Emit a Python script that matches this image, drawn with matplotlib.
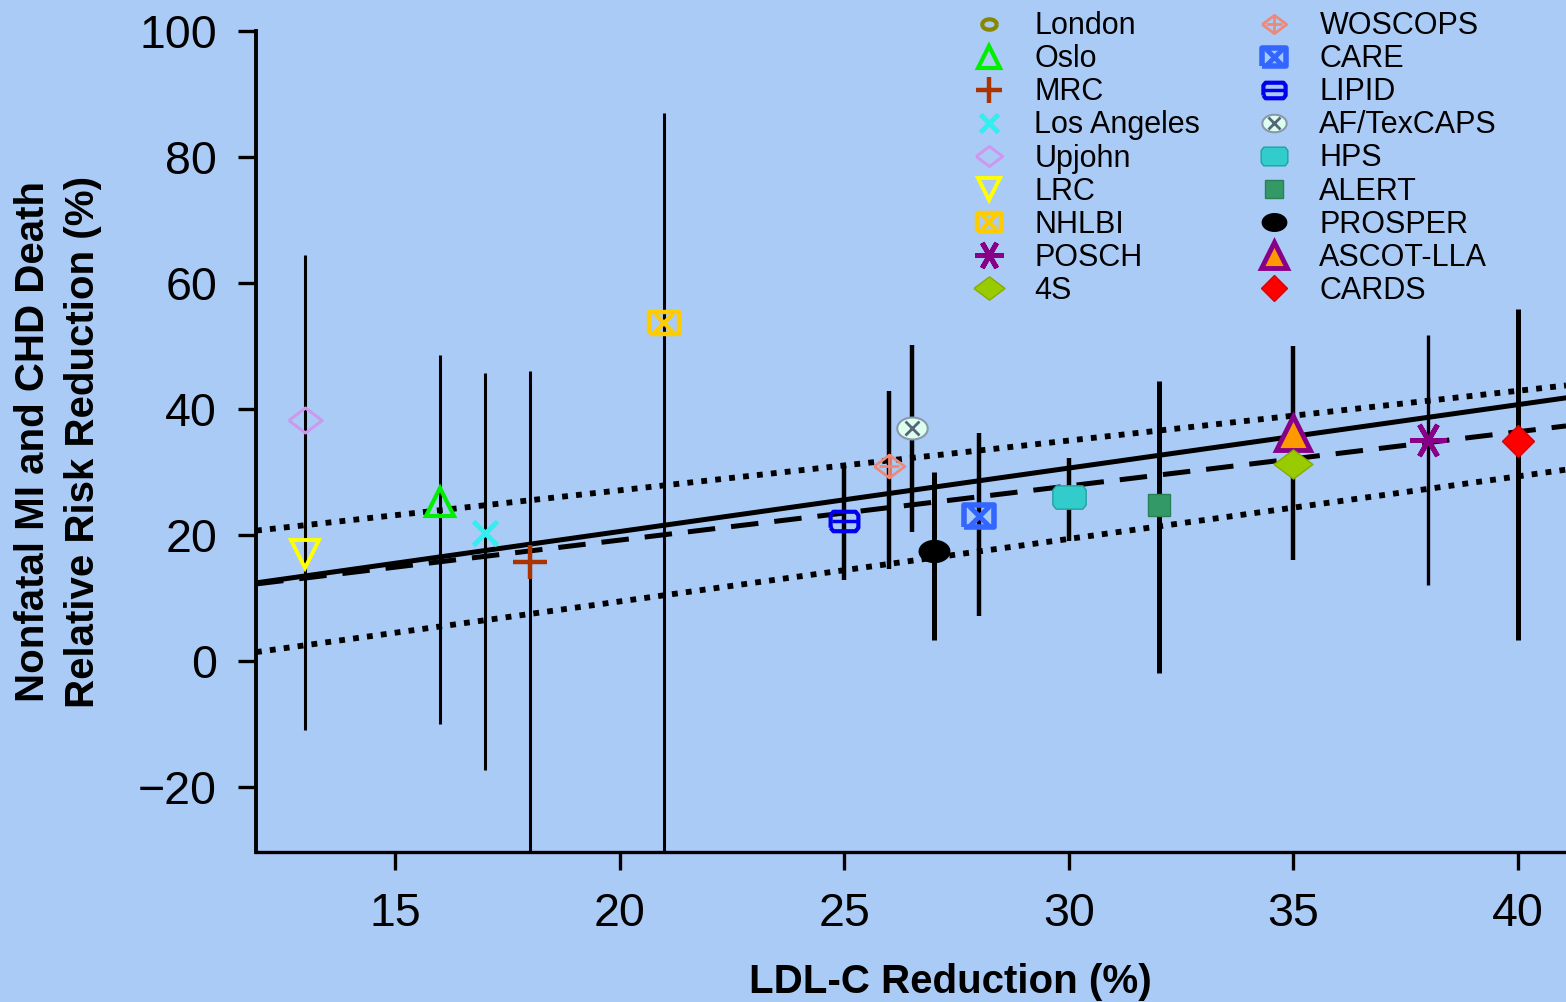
import numpy as np
import matplotlib
matplotlib.use("Agg")
from matplotlib import pyplot as plt
from matplotlib.legend_handler import HandlerTuple
from matplotlib.lines import Line2D

# trial data: LDL-C reduction (%) vs relative risk reduction (%)
trials = ["Upjohn", "LRC", "Oslo", "Los Angeles", "MRC", "NHLBI", "LIPID", "WOSCOPS",
          "AF/TexCAPS", "PROSPER", "CARE", "HPS", "ALERT", "ASCOT-LLA", "4S", "POSCH", "CARDS"]
ldl_reduction = [13, 13, 16, 17, 18, 21, 25, 26, 26.5, 27, 28, 30, 32, 35, 35, 38, 40]
rrr = [38.2, 17.0, 25.3, 20.3, 15.7, 53.6, 22.2, 31.0, 37.0, 17.5, 23.0, 26.0, 24.8, 36.2, 31.2, 35.1, 35.0]
ci_low = [-11.0, np.nan, -10.0, -17.3, -32.0, -32.0, 12.9, 14.6, 20.5, 3.3, 7.2, 19.0, -1.9, 16.0, np.nan, 12.0, 3.3]
ci_high = [64.5, np.nan, 48.5, 45.8, 46.0, 87.0, 31.0, 42.8, 50.2, 30.0, 36.2, 32.3, 44.5, 50.0, np.nan, 51.8, 55.8]

legend_left = ["London", "Oslo", "MRC", "Los Angeles", "Upjohn", "LRC", "NHLBI", "POSCH", "4S"]
legend_right = ["WOSCOPS", "CARE", "LIPID", "AF/TexCAPS", "HPS", "ALERT", "PROSPER", "ASCOT-LLA", "CARDS"]

# regression fit and its confidence band (intercept at x=0, slope)
fit_solid = (0.42, 1.007)
fit_dashed = (2.0, 0.86)
band_upper = (11.3, 0.79)
band_lower = (-10.4, 0.993)

BG = "#abcbf7"

wide_diamond = [(-1, 0), (0, 0.75), (1, 0), (0, -0.75), (-1, 0)]
wide_rect = [(-1, -0.72), (1, -0.72), (1, 0.72), (-1, 0.72), (-1, -0.72)]
rounded = [(-1, -0.45), (-0.8, -0.7), (0.8, -0.7), (1, -0.45), (1, 0.45), (0.8, 0.7),
           (-0.8, 0.7), (-1, 0.45), (-1, -0.45)]
t = np.linspace(0, 2 * np.pi, 40)
oval = list(zip(np.cos(t), 0.72 * np.sin(t)))

# marker layers per trial: list of (marker, size, face, edge, edgewidth)
styles = {
    "London": [(oval, 13, "none", "#888800", 3.0)],
    "Upjohn": [(wide_diamond, 24, "none", "#cc99ee", 2.2)],
    "LRC": [("v", 20, "none", "#ffff00", 2.8)],
    "Oslo": [("^", 20, "none", "#00ee00", 3.0)],
    "Los Angeles": [("x", 17, "none", "#33eeee", 3.6)],
    "MRC": [("+", 24, "none", "#aa3300", 3.2)],
    "NHLBI": [(wide_rect, 22, "none", "#ffcc00", 3.2), ("x", 13, "none", "#ffcc00", 3.0)],
    "LIPID": [(rounded, 20, "none", "#0000ee", 3.0), ("_", 18, "none", "#0000ee", 2.5)],
    "WOSCOPS": [(wide_diamond, 22, "none", "#ee8877", 2.0), ("+", 14, "none", "#ee8877", 2.0)],
    "AF/TexCAPS": [(oval, 22, "#ddfff0", "#8899aa", 1.5), ("x", 10, "none", "#556677", 2.0)],
    "PROSPER": [(oval, 22, "black", "black", 1.0)],
    "CARE": [(wide_rect, 22, "none", "#3366ff", 4.0), ("x", 15, "none", "#3366ff", 3.5)],
    "HPS": [(rounded, 24, "#33cccc", "#22a0a0", 1.0)],
    "ALERT": [("s", 16, "#339966", "#2a8055", 1.0)],
    "ASCOT-LLA": [("^", 24, "#ff9900", "#880088", 3.5)],
    "4S": [(wide_diamond, 28, "#99cc00", "#88aa00", 1.0)],
    "POSCH": [((6, 2, 90), 26, "none", "#880088", 3.5)],
    "CARDS": [("D", 16, "#ff0000", "#dd0000", 1.0)],
}
bar_widths = [2.2, 2.2, 2.2, 2.2, 2.2, 2.2, 3.2, 3.2, 3.2, 3.6, 3.2, 3.2, 3.6, 3.2, 3.2, 2.4, 3.6]

plt.rcParams['font.family'] = ['Liberation Sans', 'DejaVu Sans']

fig = plt.figure(figsize=(15.66, 10.02), dpi=100, facecolor=BG)
ax = fig.add_axes([256 / 1566, 1 - 852 / 1002, 1 - 256 / 1566, (852 - 31) / 1002])
ax.set_facecolor(BG)
ax.set_xlim(11.906, 41.07)
ax.set_ylim(-30.3, 100)

# regression lines
xs = np.array(ax.get_xlim())
ax.plot(xs, band_upper[0] + band_upper[1] * xs, color="black", lw=4.2, ls=(0, (1, 1.4)), zorder=2)
ax.plot(xs, band_lower[0] + band_lower[1] * xs, color="black", lw=4.2, ls=(0, (1, 1.4)), zorder=2)
ax.plot(xs, fit_dashed[0] + fit_dashed[1] * xs, color="black", lw=3.6, ls=(0, (5.5, 3.2)), zorder=2)
ax.plot(xs, fit_solid[0] + fit_solid[1] * xs, color="black", lw=3.6, zorder=2)

# confidence intervals
for x, lo, hi, w in zip(ldl_reduction, ci_low, ci_high, bar_widths):
    if not np.isnan(lo):
        ax.vlines(x, lo, hi, color="black", lw=w, zorder=3)

# points
for name, x, y in zip(trials, ldl_reduction, rrr):
    for m, ms, fc, ec, mew in styles[name]:
        ax.plot([x], [y], ls="none", marker=m, ms=ms, mfc=fc, mec=ec, mew=mew, zorder=5)


def handle_for(name):
    parts = []
    for m, ms, fc, ec, mew in styles[name]:
        parts.append(Line2D([], [], ls="none", marker=m, ms=ms * 0.8, mfc=fc, mec=ec, mew=mew))
    return tuple(parts)


order = legend_left + legend_right
handles = [handle_for(name) for name in order]

leg = fig.legend(handles, order, ncol=2, loc="upper left", bbox_to_anchor=(958 / 1566, 1 + 4 / 1002),
                 frameon=False, fontsize=22, handlelength=1.0, handletextpad=1.0,
                 columnspacing=1.9, labelspacing=0.10, borderpad=0,
                 handler_map={tuple: HandlerTuple(ndivide=1, pad=0)})

# axes styling
for s in ["top", "right"]:
    ax.spines[s].set_visible(False)
ax.spines["left"].set_linewidth(2.8)
ax.spines["bottom"].set_linewidth(2.4)
ax.set_xticks([15, 20, 25, 30, 35, 40])
ax.set_yticks([-20, 0, 20, 40, 60, 80, 100])
ax.set_yticklabels(["\u221220", "0", "20", "40", "60", "80", "100"])
ax.tick_params(axis="both", direction="out", length=13, width=2.4, labelsize=33.5, colors="black")
ax.tick_params(axis="x", pad=16)
ax.tick_params(axis="y", pad=15)

fig.text(58 / 1566, 1 - 442 / 1002, "Nonfatal MI and CHD Death\nRelative Risk Reduction (%)",
         rotation=90, ha="center", va="center", multialignment="center",
         fontsize=29, fontweight="bold", linespacing=1.42)
fig.text(950 / 1566, 1 - 993 / 1002, "LDL-C Reduction (%)", ha="center", va="baseline",
         fontsize=29, fontweight="bold")

fig.savefig("out.png", dpi=100, facecolor=BG)
